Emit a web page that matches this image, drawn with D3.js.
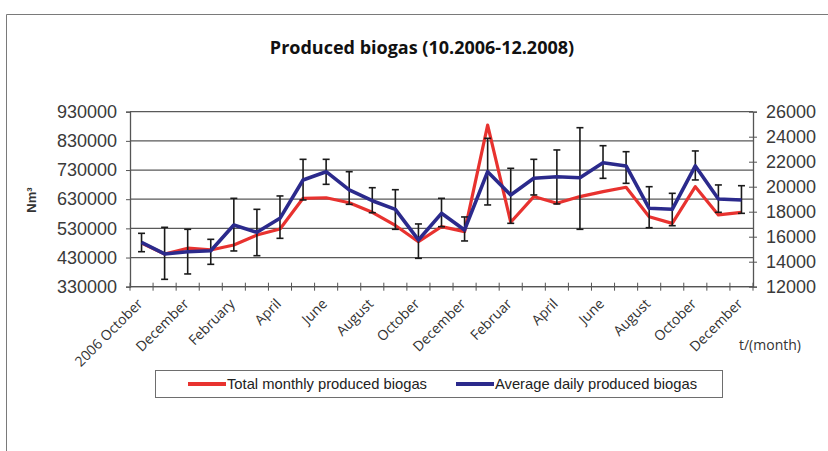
<!DOCTYPE html>
<html>
<head>
<meta charset="utf-8">
<script src="https://cdn.jsdelivr.net/npm/d3@7"></script>
<style>
  html, body { margin: 0; padding: 0; background: #ffffff; }
  svg { display: block; }
</style>
</head>
<body>
<svg id="chart" width="828" height="451"></svg>
<script>
// Months from October 2006 to December 2008
const categories = [
  "2006 October", "November", "December", "January", "February", "March",
  "April", "May", "June", "July", "August", "September",
  "October", "November", "December", "January", "Februar", "March",
  "April", "May", "June", "July", "August", "September",
  "October", "November", "December"
];

// Total monthly produced biogas, Nm³ (left axis)
const totalMonthly = [
  480000, 442000, 462000, 456000, 473000, 507000, 528000, 633000, 635000,
  618000, 585000, 540000, 484000, 536000, 519000, 884000, 551000, 639000,
  616000, 639000, 656000, 671000, 570000, 547000, 673000, 576000, 585000
];

// Average daily produced biogas, Nm³ (right axis)
const avgDaily = [
  15550, 14620, 14800, 14880, 16940, 16350, 17470, 20540, 21200,
  19740, 18880, 18190, 15740, 17870, 16540, 21200, 19340, 20670,
  20800, 20720, 21920, 21660, 18270, 18190, 21660, 19020, 18940
];

// Daily range for each month (error bars on the daily average)
const dailyHigh = [
  16270, 16750, 16590, 15790, 19070, 18190, 19260, 22190, 22190,
  21200, 19920, 19760, 17020, 19070, 17580, 23870, 21470, 22190,
  22940, 24720, 23280, 22800, 20000, 19470, 22860, 20140, 20080
];
const dailyLow = [
  14800, 12590, 13020, 13790, 14860, 14480, 15870, 18940, 20190,
  18590, 17920, 16590, 14270, 16800, 15660, 18540, 17070, 19340,
  18620, 16590, 20670, 20270, 16720, 16880, 20540, 17950, 17870
];

const leftTicks = [330000, 430000, 530000, 630000, 730000, 830000, 930000];
const rightTicks = [12000, 14000, 16000, 18000, 20000, 22000, 24000, 26000];

const legendItems = [
  { label: "Total monthly produced biogas", color: "#e8322f" },
  { label: "Average daily produced biogas", color: "#2b2a8c" }
];

const svg = d3.select("#chart");
const plot = { left: 130, right: 753, top: 111.7, bottom: 286.7 };

const x = d3.scaleBand()
  .domain(d3.range(categories.length))
  .range([plot.left, plot.right])
  .padding(0);
const cx = i => x(i) + x.bandwidth() / 2;

const yLeft = d3.scaleLinear().domain([330000, 930000]).range([plot.bottom, plot.top]);
const yRight = d3.scaleLinear().domain([12000, 26000]).range([plot.bottom, plot.top]);

// Outer frame (left and top edges)
svg.append("path")
  .attr("d", `M6.5,451 L6.5,14.5 L828,14.5`)
  .attr("fill", "none")
  .attr("stroke", "#7a7a7a")
  .attr("stroke-width", 1);

// Title
svg.append("text")
  .attr("x", 422).attr("y", 54)
  .attr("text-anchor", "middle")
  .attr("font-family", "'Open Sans', sans-serif")
  .attr("font-weight", 700)
  .attr("font-size", 18)
  .attr("fill", "#111")
  .text("Produced biogas (10.2006-12.2008)");

// Horizontal gridlines from the left axis
svg.append("g")
  .selectAll("line")
  .data(leftTicks)
  .join("line")
  .attr("x1", plot.left).attr("x2", plot.right)
  .attr("y1", d => yLeft(d)).attr("y2", d => yLeft(d))
  .attr("stroke", "#595959")
  .attr("stroke-width", 1.2);

// Left axis
const leftAxis = svg.append("g")
  .attr("transform", `translate(${plot.left},0)`)
  .call(d3.axisLeft(yLeft).tickValues(leftTicks).tickFormat(d3.format("d")).tickSize(4).tickPadding(9));
leftAxis.select(".domain").attr("stroke", "#555").attr("stroke-width", 1.3);
leftAxis.selectAll(".tick line").attr("stroke", "#555").attr("x2", -4).attr("x1", 0);
leftAxis.selectAll("text")
  .attr("font-family", "'Liberation Sans', Arial, sans-serif")
  .attr("font-size", 18)
  .attr("fill", "#3a3a3a");

// Right axis
const rightAxis = svg.append("g")
  .attr("transform", `translate(${plot.right},0)`)
  .call(d3.axisRight(yRight).tickValues(rightTicks).tickFormat(d3.format("d")).tickSize(4).tickPadding(9));
rightAxis.select(".domain").attr("stroke", "#555").attr("stroke-width", 1.3);
rightAxis.selectAll(".tick line").attr("stroke", "#555").attr("x1", -4).attr("x2", 4);
rightAxis.selectAll("text")
  .attr("font-family", "'Liberation Sans', Arial, sans-serif")
  .attr("font-size", 18)
  .attr("fill", "#3a3a3a");

// Bottom category axis with ticks between months
const bottom = svg.append("g");
bottom.append("line")
  .attr("x1", plot.left).attr("x2", plot.right)
  .attr("y1", plot.bottom).attr("y2", plot.bottom)
  .attr("stroke", "#555").attr("stroke-width", 1.3);
bottom.selectAll("line.tick")
  .data(d3.range(categories.length + 1))
  .join("line")
  .attr("class", "tick")
  .attr("x1", i => plot.left + i * x.bandwidth())
  .attr("x2", i => plot.left + i * x.bandwidth())
  .attr("y1", plot.bottom - 4).attr("y2", plot.bottom + 4)
  .attr("stroke", "#555").attr("stroke-width", 1);

// Month labels, every second month, rotated
bottom.selectAll("text")
  .data(categories.map((c, i) => ({ c, i })).filter(d => d.i % 2 === 0))
  .join("text")
  .attr("transform", d => `translate(${cx(d.i) + 2},${plot.bottom + 18}) rotate(-45)`)
  .attr("text-anchor", "end")
  .attr("font-family", "'Open Sans', sans-serif")
  .attr("font-size", 14)
  .attr("fill", "#333")
  .text(d => d.c);

// Y-axis title
svg.append("text")
  .attr("transform", `translate(36,200) rotate(-90)`)
  .attr("text-anchor", "middle")
  .attr("font-family", "'Liberation Sans', Arial, sans-serif")
  .attr("font-weight", 700)
  .attr("font-size", 13)
  .attr("fill", "#333")
  .text("Nm³");

// X-axis title
svg.append("text")
  .attr("x", 739).attr("y", 350)
  .attr("font-family", "'Open Sans', sans-serif")
  .attr("font-size", 14)
  .attr("fill", "#333")
  .text("t/(month)");

// Total monthly series
const lineLeft = d3.line().x((d, i) => cx(i)).y(d => yLeft(d));
svg.append("path")
  .datum(totalMonthly)
  .attr("d", lineLeft)
  .attr("fill", "none")
  .attr("stroke", legendItems[0].color)
  .attr("stroke-width", 3.2)
  .attr("stroke-linejoin", "round");

// Error bars for the daily series
const eb = svg.append("g").attr("stroke", "#1a1a1a").attr("stroke-width", 1.6);
const ebData = avgDaily.map((v, i) => ({ i, lo: dailyLow[i], hi: dailyHigh[i] }));
eb.selectAll("line.v").data(ebData).join("line").attr("class", "v")
  .attr("x1", d => cx(d.i)).attr("x2", d => cx(d.i))
  .attr("y1", d => yRight(d.lo)).attr("y2", d => yRight(d.hi));
eb.selectAll("line.t").data(ebData).join("line").attr("class", "t")
  .attr("x1", d => cx(d.i) - 3.5).attr("x2", d => cx(d.i) + 3.5)
  .attr("y1", d => yRight(d.hi)).attr("y2", d => yRight(d.hi));
eb.selectAll("line.b").data(ebData).join("line").attr("class", "b")
  .attr("x1", d => cx(d.i) - 3.5).attr("x2", d => cx(d.i) + 3.5)
  .attr("y1", d => yRight(d.lo)).attr("y2", d => yRight(d.lo));

// Average daily series
const lineRight = d3.line().x((d, i) => cx(i)).y(d => yRight(d));
svg.append("path")
  .datum(avgDaily)
  .attr("d", lineRight)
  .attr("fill", "none")
  .attr("stroke", legendItems[1].color)
  .attr("stroke-width", 3.6)
  .attr("stroke-linejoin", "round");

// Legend
const legend = svg.append("g");
legend.append("rect")
  .attr("x", 155.5).attr("y", 370.5)
  .attr("width", 567).attr("height", 27)
  .attr("fill", "#fff")
  .attr("stroke", "#6e6e6e")
  .attr("stroke-width", 1);
const legendX = [188, 456];
legendItems.forEach((item, k) => {
  legend.append("line")
    .attr("x1", legendX[k]).attr("x2", legendX[k] + 38)
    .attr("y1", 384).attr("y2", 384)
    .attr("stroke", item.color)
    .attr("stroke-width", 4);
  legend.append("text")
    .attr("x", legendX[k] + 39).attr("y", 389)
    .attr("font-family", "'Liberation Sans Narrow', 'Liberation Sans', sans-serif")
    .attr("font-size", 15)
    .attr("fill", "#222")
    .attr("textLength", k === 0 ? 200 : 202)
    .attr("lengthAdjust", "spacingAndGlyphs")
    .text(item.label);
});
</script>
</body>
</html>
